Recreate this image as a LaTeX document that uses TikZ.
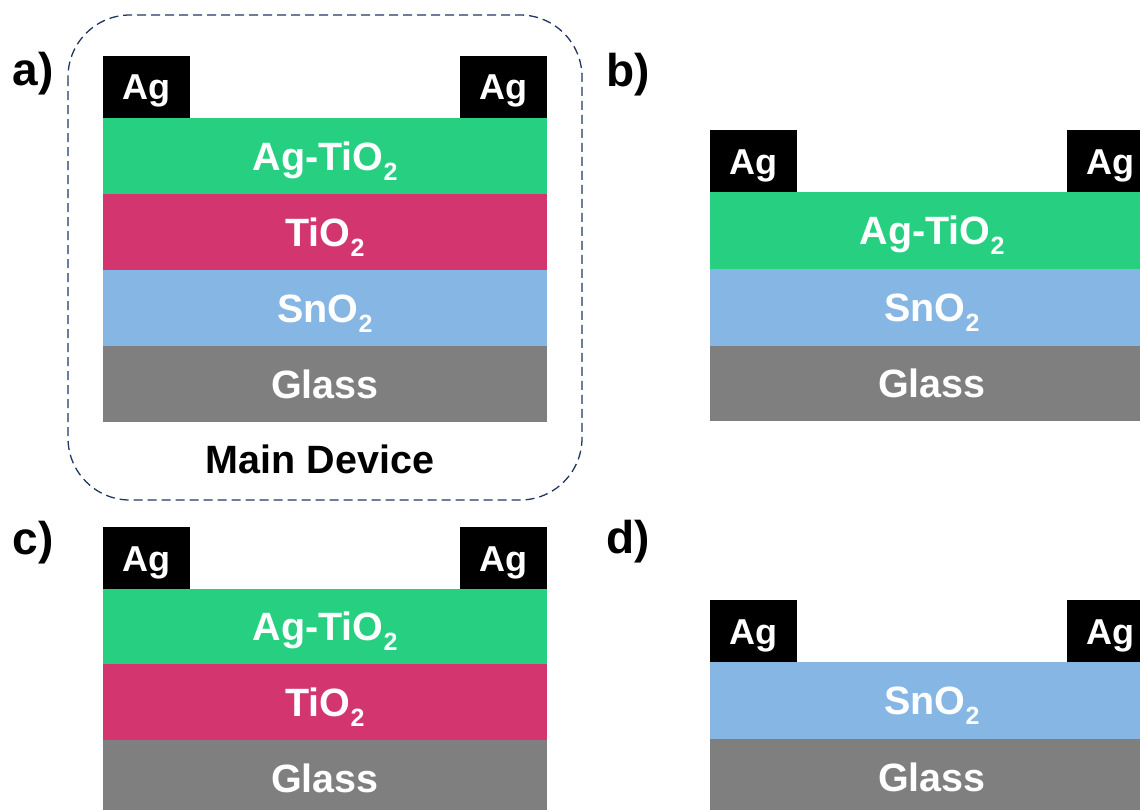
\documentclass[tikz,border=0pt]{standalone}
\usepackage{fontspec}
\setmainfont{Liberation Sans}
\definecolor{agblack}{RGB}{0,0,0}
\definecolor{agtio}{RGB}{38,208,128}
\definecolor{tio}{RGB}{211,54,111}
\definecolor{sno}{RGB}{133,182,228}
\definecolor{glass}{RGB}{127,127,127}
\definecolor{frame}{RGB}{32,56,100}
% subscript "2" of the oxide formulas
\newcommand{\subtwo}{\raisebox{-10pt}{\fontsize{25}{25}\selectfont 2}}
\tikzset{
  layer/.style={rectangle, draw=none, inner sep=0pt, minimum width=444pt,
    text height=28pt, text depth=0pt,
    font=\fontsize{39.5}{46}\selectfont\bfseries, text=white},
  contact/.style={rectangle, draw=none, fill=agblack, inner sep=0pt,
    minimum width=87pt, minimum height=62pt,
    text height=26pt, text depth=0pt,
    font=\fontsize{36}{44}\selectfont\bfseries, text=white},
  panellabel/.style={inner sep=0pt, font=\fontsize{46}{54}\selectfont\bfseries},
  caption/.style={inner sep=0pt, text height=28pt, text depth=0pt,
    font=\fontsize{39.5}{46}\selectfont\bfseries},
}
\begin{document}
\begin{tikzpicture}[x=1pt,y=-1pt]
\clip (0,0) rectangle (1140,809);
\fill[white] (0,0) rectangle (1140,809);

% ---------- a) main device ----------
\draw[frame, line width=1.3pt, dash pattern=on 9pt off 5pt, rounded corners=62pt]
  (68,15) rectangle (582,500);
\node[panellabel] (la) at (33,74) {a)};
\node[contact] (a-ag1) at (146.5,86.5) {Ag};
\node[contact] (a-ag2) at (503.5,86.5) {Ag};
\node[layer, fill=agtio, minimum height=76pt] (a-agtio) at (325,156) {Ag-TiO\subtwo};
\node[layer, fill=tio, minimum height=76pt] (a-tio) at (325,232) {TiO\subtwo};
\node[layer, fill=sno, minimum height=76pt] (a-sno) at (325,308) {SnO\subtwo};
\node[layer, fill=glass, minimum height=76pt] (a-glass) at (325,384) {Glass};
\node[caption] (main) at (320,459.5) {Main Device};

% ---------- b) ----------
\node[panellabel] (lb) at (628,75) {b)};
\node[contact] (b-ag1) at (753.5,161) {Ag};
\node[contact] (b-ag2) at (1110.5,161) {Ag};
\node[layer, fill=agtio, minimum height=77pt] (b-agtio) at (932,230.5) {Ag-TiO\subtwo};
\node[layer, fill=sno, minimum height=77pt] (b-sno) at (932,307.5) {SnO\subtwo};
\node[layer, fill=glass, minimum height=75pt] (b-glass) at (932,383.5) {Glass};

% ---------- c) ----------
\node[panellabel] (lc) at (33,543) {c)};
\node[contact] (c-ag1) at (146.5,558) {Ag};
\node[contact] (c-ag2) at (503.5,558) {Ag};
\node[layer, fill=agtio, minimum height=75pt] (c-agtio) at (325,626.5) {Ag-TiO\subtwo};
\node[layer, fill=tio, minimum height=76pt] (c-tio) at (325,702) {TiO\subtwo};
\node[layer, fill=glass, minimum height=76pt] (c-glass) at (325,778) {Glass};

% ---------- d) ----------
\node[panellabel] (ld) at (628,542) {d)};
\node[contact] (d-ag1) at (753.5,631) {Ag};
\node[contact] (d-ag2) at (1110.5,631) {Ag};
\node[layer, fill=sno, minimum height=77pt] (d-sno) at (932,700.5) {SnO\subtwo};
\node[layer, fill=glass, minimum height=76pt] (d-glass) at (932,777) {Glass};
\end{tikzpicture}
\end{document}
